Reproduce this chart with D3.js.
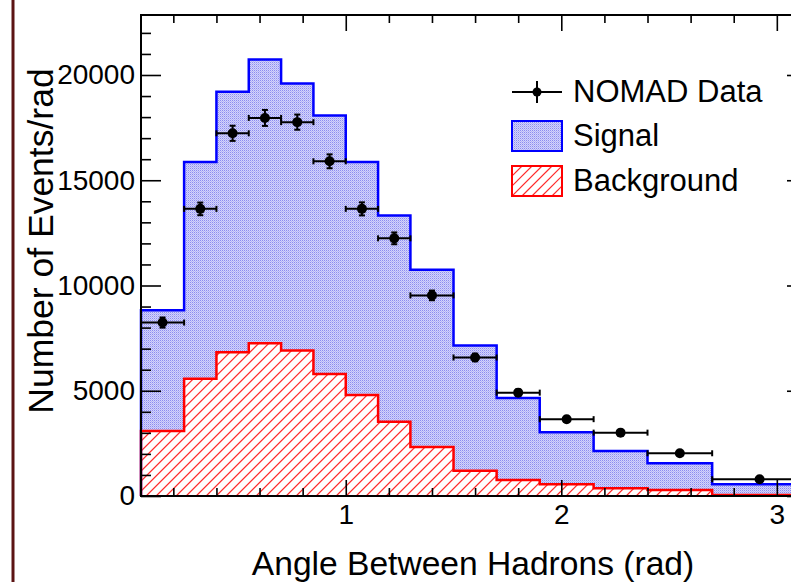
<!DOCTYPE html>
<html>
<head>
<meta charset="utf-8">
<script src="https://cdn.jsdelivr.net/npm/d3@7"></script>
<style>
  body { margin: 0; background: #fff; }
  svg { display: block; font-family: "Liberation Sans", Arial, sans-serif; }
</style>
</head>
<body>
<div id="chart"></div>
<script>
// bin edges in rad
var edges = [0.05, 0.25, 0.4, 0.55, 0.7, 0.85, 1.0, 1.15, 1.3, 1.5, 1.7, 1.9, 2.15, 2.4, 2.7, 3.14];
// MC background (events/rad)
var background = [3090, 5570, 6830, 7260, 6910, 5800, 4800, 3530, 2330, 1200, 760, 555, 365, 285, 50];
// MC signal, stacked on top of the background
var signal = [5730, 10300, 12370, 13480, 12690, 12270, 11070, 9800, 8420, 5950, 3890, 2475, 1775, 1270, 505];
// NOMAD data points and their errors
var nomad = [8240, 13640, 17230, 17960, 17760, 15900, 13640, 12240, 9530, 6580, 4910, 3650, 3010, 2030, 795];
var nomadErr = [240, 300, 360, 380, 360, 330, 310, 280, 230, 180, 150, 120, 110, 90, 60];

var yTicks = [0, 5000, 10000, 15000, 20000];
var xTicks = [1, 2, 3];
var legendLabels = ["NOMAD Data", "Signal", "Background"];

var width = 791, height = 582;
var margin = {top: 15, bottom: 86, left: 141, right: -16};

var svg = d3.select('#chart').append('svg')
  .attr('width', width)
  .attr('height', height);

var defs = svg.append('defs');
var dots = defs.append('pattern').attr('id', 'dots')
  .attr('patternUnits', 'userSpaceOnUse').attr('width', 2).attr('height', 2);
dots.append('rect').attr('width', 2).attr('height', 2).attr('fill', '#d4d4fb');
dots.append('rect').attr('width', 1).attr('height', 1).attr('fill', '#8c8cf0');
dots.append('rect').attr('x', 1).attr('y', 1).attr('width', 1).attr('height', 1).attr('fill', '#b4b4f6');

var xscale = d3.scaleLinear()
  .domain([0.05, 3.14])
  .range([margin.left, width - margin.right]);
var yscale = d3.scaleLinear()
  .domain([0, 22850])
  .range([height - margin.bottom, margin.top]);

var x0 = margin.left, x1 = width - margin.right;
var y0 = height - margin.bottom, y1 = margin.top;

// left page border
svg.append('line').attr('x1', 13).attr('x2', 13).attr('y1', 0).attr('y2', height)
  .attr('stroke', '#5c1414').attr('stroke-width', 3);

var bins = edges.slice(0, -1).map(function(e, i) {
  return {lo: e, hi: edges[i + 1], bg: background[i], tot: background[i] + signal[i],
          data: nomad[i], err: nomadErr[i]};
});

function stepPath(key) {
  var p = ['M' + xscale(bins[0].lo) + ',' + yscale(0)];
  bins.forEach(function(b) {
    p.push('L' + xscale(b.lo) + ',' + yscale(b[key]));
    p.push('L' + xscale(b.hi) + ',' + yscale(b[key]));
  });
  p.push('L' + xscale(bins[bins.length - 1].hi) + ',' + yscale(0));
  return p.join(' ');
}

// "/" hatching inside a clip region
function hatchInto(g, clipId, left, right, top, bottom) {
  g.append('rect').attr('x', left).attr('y', top).attr('width', right - left).attr('height', bottom - top)
    .attr('fill', '#fff').attr('clip-path', 'url(#' + clipId + ')');
  var h = g.append('g').attr('clip-path', 'url(#' + clipId + ')')
    .attr('stroke', '#ff2a2a').attr('stroke-width', 1.2);
  var span = bottom - top;
  for (var c = left - span; c < right + 10; c += 10) {
    h.append('line').attr('x1', c).attr('y1', bottom).attr('x2', c + span).attr('y2', top);
  }
}

svg.append('path').attr('d', stepPath('tot') + 'Z').attr('fill', 'url(#dots)').attr('stroke', 'none');

defs.append('clipPath').attr('id', 'bgclip').append('path').attr('d', stepPath('bg') + 'Z');
hatchInto(svg.append('g'), 'bgclip', x0, x1, yscale(d3.max(background)) - 2, y0);

svg.append('path').attr('d', stepPath('tot')).attr('fill', 'none').attr('stroke', '#0000ff').attr('stroke-width', 2.5);
svg.append('path').attr('d', stepPath('bg')).attr('fill', 'none').attr('stroke', '#ff0000').attr('stroke-width', 2.5);

// axes (ticks drawn inward, on top of the histograms)
var minorY = d3.range(0, 23000, 1000).filter(function(v) { return v % 5000 !== 0; });
var minorX = d3.range(0.2, 3.15, 0.2).filter(function(v) { return Math.abs(v - Math.round(v)) > 0.01; });

function styleAxis(g) {
  g.select('.domain').remove();
  g.selectAll('line').attr('stroke', '#000').attr('stroke-width', 1.6);
  g.selectAll('text').attr('font-size', 28).attr('fill', '#000');
}

svg.append('g').attr('transform', 'translate(' + x0 + ',0)')
  .call(d3.axisLeft(yscale).tickValues(yTicks).tickSize(-20).tickPadding(6).tickFormat(d3.format('d')))
  .call(styleAxis);
svg.append('g').attr('transform', 'translate(' + x0 + ',0)')
  .call(d3.axisLeft(yscale).tickValues(minorY).tickSize(-10).tickFormat(''))
  .call(styleAxis);
svg.append('g').attr('transform', 'translate(' + x1 + ',0)')
  .call(d3.axisRight(yscale).tickValues(yTicks).tickSize(-20).tickFormat(''))
  .call(styleAxis);
svg.append('g').attr('transform', 'translate(' + x1 + ',0)')
  .call(d3.axisRight(yscale).tickValues(minorY).tickSize(-10).tickFormat(''))
  .call(styleAxis);

svg.append('g').attr('transform', 'translate(0,' + y0 + ')')
  .call(d3.axisBottom(xscale).tickValues(xTicks).tickSize(-16).tickPadding(8).tickFormat(d3.format('d')))
  .call(styleAxis);
svg.append('g').attr('transform', 'translate(0,' + y0 + ')')
  .call(d3.axisBottom(xscale).tickValues(minorX).tickSize(-8).tickFormat(''))
  .call(styleAxis);
svg.append('g').attr('transform', 'translate(0,' + y1 + ')')
  .call(d3.axisTop(xscale).tickValues(xTicks).tickSize(-16).tickFormat(''))
  .call(styleAxis);
svg.append('g').attr('transform', 'translate(0,' + y1 + ')')
  .call(d3.axisTop(xscale).tickValues(minorX).tickSize(-8).tickFormat(''))
  .call(styleAxis);

// frame
svg.append('rect').attr('x', x0).attr('y', y1).attr('width', x1 - x0).attr('height', y0 - y1)
  .attr('fill', 'none').attr('stroke', '#000').attr('stroke-width', 2);

// data points with error bars
var pts = svg.append('g').attr('stroke', '#000').attr('stroke-width', 2);
bins.forEach(function(b) {
  var xc = xscale((b.lo + b.hi) / 2), yc = yscale(b.data);
  var ya = yscale(b.data + b.err), yb = yscale(b.data - b.err);
  pts.append('line').attr('x1', xscale(b.lo)).attr('x2', xscale(b.hi)).attr('y1', yc).attr('y2', yc);
  pts.append('line').attr('x1', xscale(b.lo)).attr('x2', xscale(b.lo)).attr('y1', yc - 3).attr('y2', yc + 3);
  pts.append('line').attr('x1', xscale(b.hi)).attr('x2', xscale(b.hi)).attr('y1', yc - 3).attr('y2', yc + 3);
  pts.append('line').attr('x1', xc).attr('x2', xc).attr('y1', ya).attr('y2', yb);
  pts.append('line').attr('x1', xc - 3).attr('x2', xc + 3).attr('y1', ya).attr('y2', ya);
  pts.append('line').attr('x1', xc - 3).attr('x2', xc + 3).attr('y1', yb).attr('y2', yb);
  pts.append('circle').attr('cx', xc).attr('cy', yc).attr('r', 5).attr('fill', '#000').attr('stroke', 'none');
});

// axis titles
svg.append('text').attr('x', 473).attr('y', 575).attr('text-anchor', 'middle')
  .attr('font-size', 33.6).text('Angle Between Hadrons (rad)');
svg.append('text').attr('transform', 'translate(53,241) rotate(-90)').attr('text-anchor', 'middle')
  .attr('font-size', 35.5).text('Number of Events/rad');

// legend
var leg = svg.append('g');
var ly = [92, 136, 181];
leg.append('line').attr('x1', 512).attr('x2', 562).attr('y1', ly[0]).attr('y2', ly[0]).attr('stroke', '#000').attr('stroke-width', 2);
leg.append('line').attr('x1', 537).attr('x2', 537).attr('y1', ly[0] - 11).attr('y2', ly[0] + 11).attr('stroke', '#000').attr('stroke-width', 2);
leg.append('circle').attr('cx', 537).attr('cy', ly[0]).attr('r', 4.5).attr('fill', '#000');
leg.append('rect').attr('x', 512).attr('y', ly[1] - 15).attr('width', 50).attr('height', 30)
  .attr('fill', 'url(#dots)').attr('stroke', '#0000ff').attr('stroke-width', 2);
defs.append('clipPath').attr('id', 'legclip').append('rect')
  .attr('x', 512).attr('y', ly[2] - 15).attr('width', 50).attr('height', 30);
hatchInto(leg.append('g'), 'legclip', 512, 562, ly[2] - 15, ly[2] + 15);
leg.append('rect').attr('x', 512).attr('y', ly[2] - 15).attr('width', 50).attr('height', 30)
  .attr('fill', 'none').attr('stroke', '#ff0000').attr('stroke-width', 2);
legendLabels.forEach(function(t, i) {
  leg.append('text').attr('x', 573).attr('y', ly[i] + 10).attr('font-size', 31).text(t);
});
</script>
</body>
</html>
